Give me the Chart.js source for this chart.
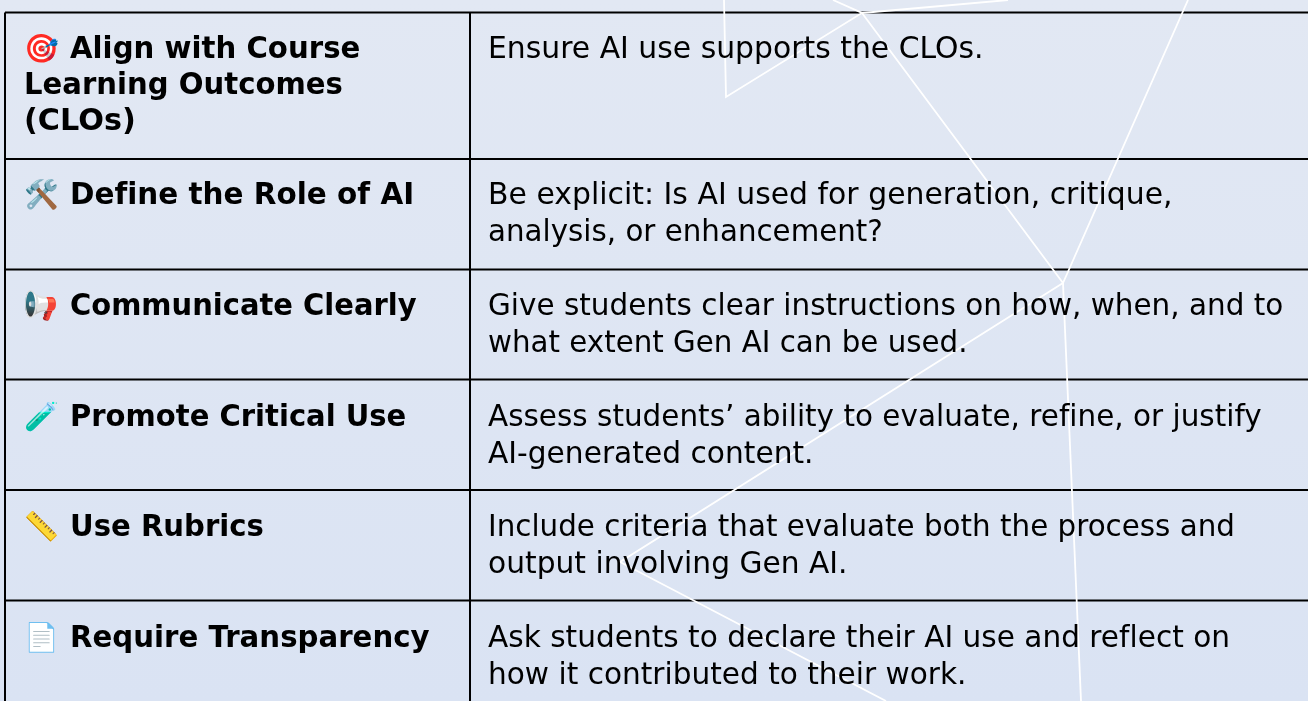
<!DOCTYPE html>
<html lang="en">
<head>
  <meta charset="UTF-8">
  <title>Gen AI assessment table</title>
  <script src="https://cdn.jsdelivr.net/npm/chart.js"></script>
  <style>
    html, body { margin: 0; padding: 0; overflow: hidden; }
    body { width: 1308px; height: 701px; background: linear-gradient(#e2e8f3, #dae3f3); }
    canvas { display: block; }
  </style>
</head>
<body>
  <canvas id="myChart" width="1308" height="701"></canvas>

  <script>
    // Table content
    const rowIcons = ['🎯', '🛠️', '📢', '🧪', '📏', '📄'];
    const rowTitles = [
      ['Align with Course', 'Learning Outcomes', '(CLOs)'],
      ['Define the Role of AI'],
      ['Communicate Clearly'],
      ['Promote Critical Use'],
      ['Use Rubrics'],
      ['Require Transparency']
    ];
    const rowTexts = [
      ['Ensure AI use supports the CLOs.'],
      ['Be explicit: Is AI used for generation, critique,', 'analysis, or enhancement?'],
      ['Give students clear instructions on how, when, and to', 'what extent Gen AI can be used.'],
      ['Assess students’ ability to evaluate, refine, or justify', 'AI-generated content.'],
      ['Include criteria that evaluate both the process and', 'output involving Gen AI.'],
      ['Ask students to declare their AI use and reflect on', 'how it contributed to their work.']
    ];

    // Where each line of text ends
    const titleEnds = [[359, 342, 134], [412], [417], [405], [263], [430]];
    const textEnds = [[981], [1170, 881], [1282, 965], [1261, 811], [1233, 845], [1228, 964]];

    // Table rules and first baseline of each row, in chart units
    const rowRules = [12.5, 159, 269.5, 379.5, 490, 600.5];
    const rowBaselines = [58, 204, 315, 426, 536, 647];
    const columnRules = [5, 470];

    // White background lines
    const lineAX = [724, 726, 862, 833];
    const lineAY = [0, 97, 13, 0];
    const lineBX = [862, 1008];
    const lineBY = [13, 0];
    const lineCX = [862, 1063, 1188];
    const lineCY = [13, 283, 0];
    const lineDX = [1063, 1081];
    const lineDY = [283, 701];
    const lineEX = [1063, 620, 886];
    const lineEY = [283, 562, 701];

    const toPoints = (xs, ys) => xs.map((x, i) => ({ x: x, y: ys[i] }));

    const whiteLine = (xs, ys) => ({
      data: toPoints(xs, ys),
      showLine: true,
      borderColor: '#ffffff',
      borderWidth: 1.8,
      pointRadius: 0
    });
    const ruleLine = (xs, ys) => ({
      data: toPoints(xs, ys),
      showLine: true,
      borderColor: '#000000',
      borderWidth: 2,
      pointRadius: 0
    });

    const datasets = [
      whiteLine(lineAX, lineAY),
      whiteLine(lineBX, lineBY),
      whiteLine(lineCX, lineCY),
      whiteLine(lineDX, lineDY),
      whiteLine(lineEX, lineEY)
    ];
    rowRules.forEach(y => datasets.push(ruleLine([columnRules[0], 1308], [y, y])));
    columnRules.forEach(x => datasets.push(ruleLine([x, x], [rowRules[0], 701])));

    // Fits a line to the width in the reference (DejaVu and the original face differ a little)
    function fitText(ctx, text, x, y, endX) {
      // a tiny spacing keeps the "fi" ligature off
      ctx.letterSpacing = '0.01px';
      const inkRight = ctx.measureText(text).actualBoundingBoxRight;
      ctx.save();
      ctx.translate(x, y);
      ctx.scale((endX - x) / inkRight, 1);
      ctx.fillText(text, 0, 0);
      ctx.restore();
      ctx.letterSpacing = '0px';
    }

    // Draws the cell text at the scale positions
    const tableText = {
      id: 'tableText',
      afterDatasetsDraw(chart) {
        const ctx = chart.ctx;
        const sx = chart.scales.x;
        const sy = chart.scales.y;
        ctx.save();
        ctx.fillStyle = '#000000';
        ctx.textBaseline = 'alphabetic';
        rowTitles.forEach((lines, r) => {
          const y0 = rowBaselines[r];
          ctx.font = '28px "Noto Color Emoji", "DejaVu Sans"';
          if (r === 2) {
            // the reference's loudspeaker faces left
            ctx.save();
            ctx.translate(sx.getPixelForValue(24) + 34, 0);
            ctx.scale(-1, 1);
            ctx.fillText(rowIcons[r], 0, sy.getPixelForValue(y0));
            ctx.restore();
          } else {
            ctx.fillText(rowIcons[r], sx.getPixelForValue(24), sy.getPixelForValue(y0));
          }
          ctx.font = 'bold 30px "DejaVu Sans"';
          lines.forEach((line, i) => {
            fitText(ctx, line, sx.getPixelForValue(i === 0 ? 70 : 24),
              sy.getPixelForValue(y0 + i * 36), sx.getPixelForValue(titleEnds[r][i]));
          });
        });
        ctx.font = '30px "DejaVu Sans"';
        rowTexts.forEach((lines, r) => {
          lines.forEach((line, i) => {
            fitText(ctx, line, sx.getPixelForValue(488),
              sy.getPixelForValue(rowBaselines[r] + i * 36.5), sx.getPixelForValue(textEnds[r][i]));
          });
        });
        ctx.restore();
      }
    };

    new Chart(document.getElementById('myChart').getContext('2d'), {
      type: 'scatter',
      data: { datasets: datasets },
      plugins: [tableText],
      options: {
        responsive: false,
        animation: false,
        layout: { padding: 0 },
        plugins: { legend: { display: false }, tooltip: { enabled: false } },
        scales: {
          x: { type: 'linear', display: false, min: 0, max: 1308 },
          y: { type: 'linear', display: false, min: 0, max: 701, reverse: true }
        }
      }
    });
  </script>
</body>
</html>
